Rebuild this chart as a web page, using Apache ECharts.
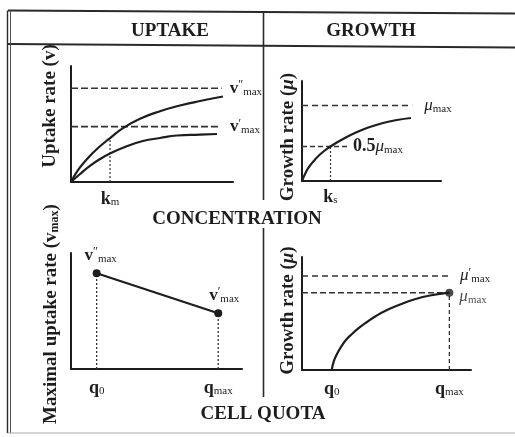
<!DOCTYPE html>
<html>
<head>
<meta charset="utf-8">
<script src="https://cdn.jsdelivr.net/npm/echarts@6/dist/echarts.min.js"></script>
<style>
  html, body { margin: 0; padding: 0; background: #fff; }
  #chart { width: 515px; height: 437px; }
</style>
</head>
<body>
<div id="chart"></div>
<script>
// ---- Uptake rate vs concentration (upper left) ----
const uptakeHighCurve = [[0, 0], [0.43, 1.03], [0.99, 1.98], [1.60, 2.84], [2.41, 3.79], [3.21, 4.65],
  [4.26, 5.45], [5.49, 6.10], [6.73, 6.59], [7.96, 6.98], [9.38, 7.37]];
const uptakeLowCurve = [[0, 0], [0.56, 0.69], [1.17, 1.38], [1.79, 1.98], [2.41, 2.46], [3.33, 3.02],
  [4.44, 3.53], [5.49, 3.79], [6.54, 4.01], [7.96, 4.09], [9.01, 4.14]];
const vmaxHighLine = [[0, 8.08], [9.30, 8.08]];
const vmaxLowLine = [[0, 4.77], [9.07, 4.77]];
const kmLine = [[2.41, 0], [2.41, 3.79]];
const uptakeTicks = [2.41];
const uptakeTickLabels = ['{b|k}{s|m}'];

// ---- Growth rate vs concentration (upper right) ----
const growthConcCurve = [[0, 0], [0.29, 0.9], [0.58, 1.55], [1.29, 2.65], [2.05, 3.45], [2.95, 4.2],
  [3.96, 4.9], [4.89, 5.4], [5.83, 5.8], [6.83, 6.1], [7.84, 6.3]];
const muMaxLine = [[0, 7.55], [7.93, 7.55]];
const halfMuLine = [[0, 3.45], [3.45, 3.45]];
const ksLine = [[2.05, 0], [2.05, 3.45]];
const growthConcTicks = [2.05];
const growthConcTickLabels = ['{b|k}{s|s}'];

// ---- Maximal uptake rate vs cell quota (lower left) ----
const quotaUptakePoints = [[1.50, 8.25], [8.61, 4.80]];
const quotaUptakeLabels = ['{vb|v}{sup|″}{sub|max}', '{vb|v}{sup|′}{sub|max}'];
const quotaUptakeTicks = [1.50, 8.61];
const quotaUptakeTickLabels = ['{b|q}{s|0}', '{b|q}{s|max}'];

// ---- Growth rate vs cell quota (lower right) ----
const growthQuotaCurve = [[1.76, 0], [1.89, 0.80], [2.07, 1.42], [2.31, 2.04], [2.60, 2.65], [2.96, 3.19],
  [3.37, 3.72], [3.85, 4.25], [4.38, 4.78], [5.03, 5.31], [5.80, 5.80], [6.63, 6.24], [7.57, 6.59], [8.72, 6.84]];
const muMaxQuotaLine = [[0, 6.84], [8.72, 6.84]];
const muMaxPrimeLine = [[0, 8.32], [8.76, 8.32]];
const qmaxDrop = [[8.72, 0], [8.72, 6.84]];
const growthQuotaPoint = [[8.72, 6.84]];
const growthQuotaTicks = [1.76, 8.72];
const growthQuotaTickLabels = ['{b|q}{s|0}', '{b|q}{s|max}'];

const SERIF = '"Liberation Serif", "Times New Roman", "DejaVu Serif", serif';
const INK = '#1d1d1d';
const GUIDE = '#333';

const tickRich = {
  b: { fontFamily: SERIF, fontSize: 18, fontWeight: 'bold', color: INK, lineHeight: 18 },
  s: { fontFamily: SERIF, fontSize: 11, color: INK, lineHeight: 10, verticalAlign: 'bottom' }
};
const labelRich = {
  v: { fontFamily: SERIF, fontSize: 17, color: INK, lineHeight: 18 },
  vb: { fontFamily: SERIF, fontSize: 17, fontWeight: 'bold', color: INK, lineHeight: 18 },
  nb: { fontFamily: SERIF, fontSize: 18, fontWeight: 'bold', color: INK, lineHeight: 18 },
  vi: { fontFamily: SERIF, fontSize: 17, fontStyle: 'italic', color: INK, lineHeight: 18 },
  sup: { fontFamily: SERIF, fontSize: 12, color: INK, lineHeight: 10, verticalAlign: 'top' },
  sub: { fontFamily: SERIF, fontSize: 11, color: INK, lineHeight: 10, verticalAlign: 'bottom' }
};
const nameRich = {
  i: { fontFamily: SERIF, fontSize: 19, fontStyle: 'italic', fontWeight: 'bold', color: INK, lineHeight: 20 },
  sub: { fontFamily: SERIF, fontSize: 12, fontWeight: 'bold', color: INK, lineHeight: 10, verticalAlign: 'bottom' }
};

function nearestIndex(values, v) {
  let best = 0;
  values.forEach((t, i) => { if (Math.abs(t - v) < Math.abs(values[best] - v)) best = i; });
  return best;
}

function xAxis(gridIndex, ticks, labels, margin) {
  return {
    type: 'value', gridIndex, min: 0, max: 10,
    axisLine: { show: true, onZero: false, lineStyle: { color: INK, width: 2 } },
    axisTick: { show: false },
    splitLine: { show: false },
    axisLabel: {
      show: true, customValues: ticks, margin,
      formatter: v => labels[nearestIndex(ticks, v)],
      rich: tickRich
    }
  };
}

// shift > 0 moves the title up along the axis, shift < 0 moves it down
function yAxis(gridIndex, name, gap, shift) {
  const pad = shift > 0 ? [0, 0, 0, 2 * shift] : [0, -2 * shift, 0, 0];
  return {
    type: 'value', gridIndex, min: 0, max: 10,
    name, nameLocation: 'middle', nameGap: gap, nameRotate: 90, nameMoveOverlap: false,
    nameTextStyle: { fontFamily: SERIF, fontSize: 19, fontWeight: 'bold', color: INK, lineHeight: 20, padding: pad, rich: nameRich },
    axisLine: { show: true, onZero: false, lineStyle: { color: INK, width: 2 } },
    axisTick: { show: false },
    axisLabel: { show: false },
    splitLine: { show: false }
  };
}

function curve(idx, data) {
  return {
    type: 'line', xAxisIndex: idx, yAxisIndex: idx, data,
    smooth: 0.5, symbol: 'none', silent: true, z: 4,
    lineStyle: { color: INK, width: 2.2 }
  };
}

function guide(idx, data, dash, width, label, distance) {
  const s = {
    type: 'line', xAxisIndex: idx, yAxisIndex: idx, data,
    symbol: 'none', silent: true, z: 3,
    lineStyle: { color: GUIDE, width, type: dash }
  };
  if (label) {
    s.endLabel = { show: true, formatter: label, distance, rich: labelRich, color: INK };
  }
  return s;
}

const grids = [
  { left: 71, top: 66, width: 162, height: 116 },
  { left: 302, top: 81, width: 139, height: 100 },
  { left: 71, top: 253, width: 171, height: 116 },
  { left: 302, top: 257, width: 169, height: 113 }
].map(g => Object.assign({ containLabel: false, outerBoundsMode: 'none' }, g));

const frameLine = (x1, y1, x2, y2, w, c) => ({
  type: 'line', silent: true, shape: { x1, y1, x2, y2 }, style: { stroke: c || '#2a2a2a', lineWidth: w }
});
const heading = (text, x, y) => ({
  type: 'text', x, y, silent: true,
  style: {
    text, fill: INK, fontFamily: SERIF, fontSize: 19, fontWeight: 'bold',
    align: 'center', verticalAlign: 'middle', textAlign: 'center', textVerticalAlign: 'middle'
  }
});

const option = {
  backgroundColor: '#ffffff',
  animation: false,
  grid: grids,
  xAxis: [
    xAxis(0, uptakeTicks, uptakeTickLabels, 8),
    xAxis(1, growthConcTicks, growthConcTickLabels, 7),
    xAxis(2, quotaUptakeTicks, quotaUptakeTickLabels, 10),
    xAxis(3, growthQuotaTicks, growthQuotaTickLabels, 10)
  ],
  yAxis: [
    yAxis(0, 'Uptake rate (v)', 11, 18),
    yAxis(1, 'Growth rate ({i|μ})', 4, -6),
    yAxis(2, 'Maximal uptake rate (v{sub|max})', 10, -3),
    yAxis(3, 'Growth rate ({i|μ})', 4, 3)
  ],
  series: [
    // upper left
    guide(0, vmaxHighLine, [7, 3], 1.6, '{vb|v}{sup|″}{sub|max}', 8),
    guide(0, vmaxLowLine, [7, 3], 1.6, '{vb|v}{sup|′}{sub|max}', 12),
    guide(0, kmLine, [2, 2], 1.2),
    curve(0, uptakeHighCurve),
    curve(0, uptakeLowCurve),
    // upper right
    guide(1, muMaxLine, [6, 4], 1.4, '{vi|μ}{sub|max}', 12),
    guide(1, halfMuLine, [5, 3], 1.4, '{nb|0.5}{vi|μ}{sub|max}', 3),
    guide(1, ksLine, [2, 2], 1.2),
    curve(1, growthConcCurve),
    // lower left
    ...quotaUptakePoints.map(p => guide(2, [[p[0], 0], p], [2, 2], 1.3)),
    {
      type: 'line', xAxisIndex: 2, yAxisIndex: 2, silent: true, z: 4,
      data: quotaUptakePoints.map((p, i) => ({
        value: p,
        label: {
          show: true, position: 'top', distance: 5, offset: [i === 0 ? 4 : 6, 0],
          formatter: quotaUptakeLabels[i], rich: labelRich
        }
      })),
      symbol: 'circle', symbolSize: 8, showSymbol: true,
      itemStyle: { color: INK },
      lineStyle: { color: INK, width: 2.2 }
    },
    // lower right
    guide(3, muMaxPrimeLine, [6, 4], 1.4, '{vi|μ}{sup|′}{sub|max}', 10),
    guide(3, muMaxQuotaLine, [6, 3], 1.6),
    guide(3, qmaxDrop, [4, 3], 1.3),
    curve(3, growthQuotaCurve),
    {
      type: 'scatter', xAxisIndex: 3, yAxisIndex: 3, silent: true, z: 5,
      data: growthQuotaPoint,
      symbol: 'circle', symbolSize: 8,
      itemStyle: { color: INK },
      label: { show: true, position: 'right', distance: 6, offset: [0, 4], formatter: '{vi|μ}{sub|max}', rich: labelRich }
    }
  ],
  graphic: [
    frameLine(8, 10.5, 515, 13.5, 2),
    frameLine(8, 44, 515, 47.5, 2),
    frameLine(7.5, 10.5, 7.5, 433, 1.4),
    frameLine(10.5, 10.5, 10.5, 433, 1, '#555'),
    frameLine(8, 433, 515, 433, 1, '#aaa'),
    frameLine(263.5, 11.5, 263.5, 200, 1.6),
    frameLine(263.5, 228, 263.5, 397, 1.6),
    heading('UPTAKE', 170, 31),
    heading('GROWTH', 371, 31),
    heading('CONCENTRATION', 237, 219),
    heading('CELL QUOTA', 263, 414)
  ]
};

const chart = echarts.init(document.getElementById('chart'));
chart.setOption(option);
</script>
</body>
</html>
